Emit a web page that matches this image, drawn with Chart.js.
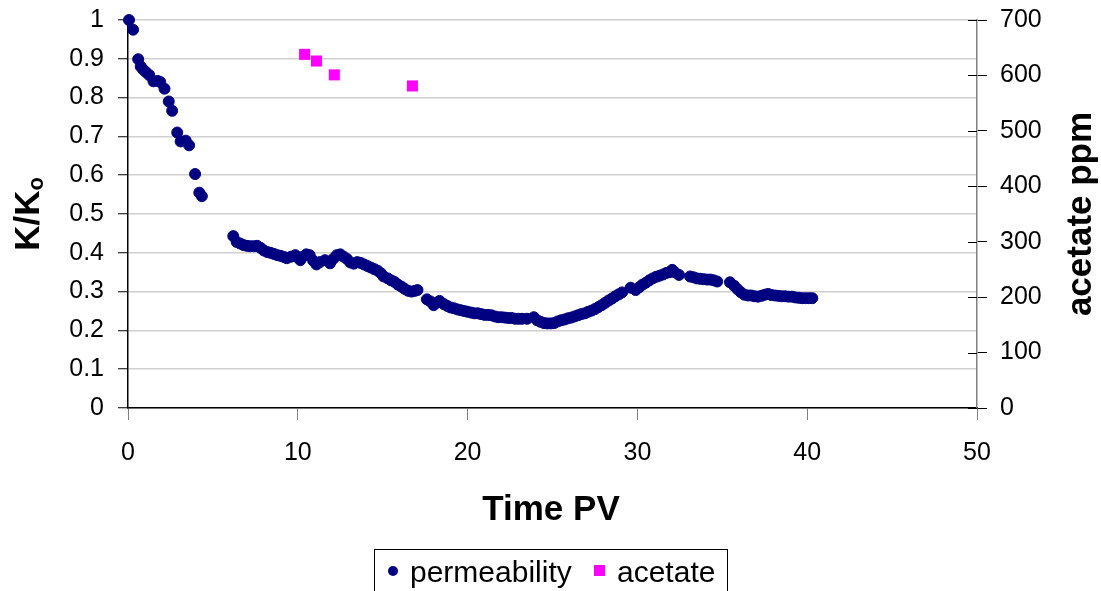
<!DOCTYPE html>
<html>
<head>
<meta charset="utf-8">
<script src="https://cdn.jsdelivr.net/npm/chart.js@4/dist/chart.umd.min.js"></script>
<style>
  html, body { margin: 0; padding: 0; background: #fff; }
  canvas { display: block; }
</style>
</head>
<body>
<canvas id="c" width="1101" height="591"></canvas>
<script>
// Permeability ratio K/Ko against pore volumes injected
const permTime = [
  0.06, 0.3, 0.6, 0.75, 0.9, 1.05, 1.25, 1.5, 1.75, 1.9, 2.15, 2.4, 2.6, 2.9, 3.1, 3.4, 3.6, 3.95, 4.2, 4.35,
  6.2, 6.4, 6.6, 6.8, 7.0, 7.2, 7.4, 7.6, 7.8, 8.0, 8.2, 8.4, 8.6, 8.8, 9.0, 9.2, 9.35, 9.6, 9.85, 10.0,
  10.15, 10.3, 10.5, 10.7, 10.9, 11.1, 11.3, 11.6, 11.9, 12.1, 12.3, 12.5, 12.7, 12.9, 13.1, 13.3, 13.5, 13.7, 13.9, 14.1,
  14.3, 14.5, 14.7, 14.9, 15.05, 15.3, 15.5, 15.7, 15.9, 16.1, 16.3, 16.5, 16.7, 16.9, 17.05,
  17.6, 17.8, 18.0, 18.2, 18.35, 18.6, 18.8, 19.0, 19.2, 19.4, 19.6, 19.8, 20.0, 20.2, 20.4, 20.6, 20.8, 21.0, 21.2, 21.4,
  21.6, 21.8, 22.0, 22.2, 22.4, 22.6, 22.8, 23.0, 23.2, 23.5, 23.9, 24.1, 24.3, 24.5, 24.7, 24.9, 25.1, 25.3, 25.5, 25.7,
  25.9, 26.1, 26.3, 26.5, 26.7, 26.9, 27.1, 27.3, 27.5, 27.7, 27.9, 28.1, 28.3, 28.5, 28.7, 28.9, 29.1,
  29.6, 29.9, 30.1, 30.3, 30.5, 30.7, 30.9, 31.1, 31.3, 31.5, 31.7, 31.9, 32.05, 32.2, 32.45,
  33.1, 33.3, 33.5, 33.7, 33.9, 34.1, 34.3, 34.5, 34.7,
  35.45, 35.7, 35.9, 36.1, 36.3, 36.5, 36.7, 36.9, 37.1, 37.3, 37.5, 37.7, 37.9, 38.1, 38.3, 38.5, 38.7, 38.9, 39.1, 39.3,
  39.5, 39.7, 39.9, 40.1, 40.3
];
const permValue = [
  1.0, 0.975, 0.899, 0.88, 0.872, 0.866, 0.858, 0.842, 0.843, 0.84, 0.823, 0.79, 0.766, 0.71, 0.687, 0.689, 0.677, 0.603, 0.555, 0.546,
  0.443, 0.428, 0.424, 0.42, 0.418, 0.417, 0.417, 0.418, 0.413, 0.406, 0.402, 0.4, 0.397, 0.394, 0.392, 0.389, 0.386, 0.39, 0.394, 0.388,
  0.381, 0.39, 0.396, 0.394, 0.38, 0.37, 0.376, 0.381, 0.373, 0.385, 0.394, 0.396, 0.39, 0.384, 0.375, 0.372, 0.376, 0.374, 0.37, 0.366,
  0.362, 0.358, 0.354, 0.347, 0.339, 0.334, 0.329, 0.325, 0.318, 0.313, 0.307, 0.302, 0.3, 0.302, 0.304,
  0.28, 0.275, 0.265, 0.272, 0.276, 0.268, 0.263, 0.259, 0.257, 0.254, 0.252, 0.25, 0.248, 0.246, 0.244, 0.244, 0.242, 0.24, 0.24, 0.239,
  0.236, 0.234, 0.234, 0.233, 0.232, 0.232, 0.23, 0.23, 0.23, 0.23, 0.234, 0.226, 0.222, 0.219, 0.218, 0.218, 0.219, 0.223, 0.226, 0.228,
  0.231, 0.233, 0.236, 0.239, 0.242, 0.244, 0.248, 0.251, 0.255, 0.26, 0.265, 0.271, 0.277, 0.282, 0.288, 0.293, 0.298,
  0.31, 0.304, 0.311, 0.318, 0.323, 0.329, 0.334, 0.338, 0.341, 0.344, 0.348, 0.35, 0.356, 0.35, 0.343,
  0.339, 0.337, 0.334, 0.333, 0.332, 0.331, 0.331, 0.329, 0.326,
  0.324, 0.315, 0.306, 0.298, 0.292, 0.29, 0.29, 0.288, 0.287, 0.289, 0.292, 0.294, 0.291, 0.29, 0.289, 0.288, 0.288, 0.287, 0.287, 0.285,
  0.284, 0.283, 0.283, 0.283, 0.283
];

// Acetate concentration (ppm), right axis
const acetateTime = [10.4, 11.1, 12.15, 16.75];
const acetateValue = [638, 626, 601, 581];

// Axis tick labels
const xTickLabels = ['0', '10', '20', '30', '40', '50'];
const leftTickLabels = ['0', '0.1', '0.2', '0.3', '0.4', '0.5', '0.6', '0.7', '0.8', '0.9', '1'];
const rightTickLabels = ['0', '100', '200', '300', '400', '500', '600', '700'];

const FONT = '"Liberation Sans", Arial, sans-serif';
const NAVY = '#000080';
const MAGENTA = '#ff00ff';

const toPoints = (xs, ys) => xs.map((x, i) => ({ x: x, y: ys[i] }));

// fixed axis boxes so the plot area sits at the same place every time
const fixWidth = w => s => {
  s.width = w;
  s.paddingTop = 0;
  s.paddingBottom = 0;
};
const fixHeight = h => s => {
  s.height = h;
  s.paddingLeft = 0;
  s.paddingRight = 0;
};

// Titles, inner right-axis ticks and the boxed legend
const decorations = {
  id: 'decorations',
  afterDraw(chart) {
    const ctx = chart.ctx;
    const area = chart.chartArea;
    const y2 = chart.scales.y2;

    // inner half of the right axis cross ticks
    ctx.save();
    ctx.strokeStyle = '#000';
    ctx.lineWidth = 1;
    y2.ticks.forEach(t => {
      const py = Math.round(y2.getPixelForValue(t.value)) + 0.5;
      ctx.beginPath();
      ctx.moveTo(area.right - 9, py);
      ctx.lineTo(area.right, py);
      ctx.stroke();
    });
    ctx.restore();

    ctx.save();
    ctx.fillStyle = '#000';
    ctx.textBaseline = 'alphabetic';

    // x-axis title
    ctx.font = 'bold 35px ' + FONT;
    ctx.textAlign = 'center';
    ctx.fillText('Time PV', 551, 520);

    // left title K/Ko with subscript, rotated
    const cy = (area.top + area.bottom) / 2;
    ctx.save();
    ctx.translate(39, cy);
    ctx.rotate(-Math.PI / 2);
    ctx.font = 'bold 35px ' + FONT;
    const mainW = ctx.measureText('K/K').width;
    ctx.font = 'bold 22px ' + FONT;
    const subW = ctx.measureText('o').width;
    const start = -(mainW + subW) / 2;
    ctx.textAlign = 'left';
    ctx.font = 'bold 35px ' + FONT;
    ctx.fillText('K/K', start, 0);
    ctx.font = 'bold 22px ' + FONT;
    ctx.fillText('o', start + mainW, 4);
    ctx.restore();

    // right title
    ctx.save();
    ctx.translate(1091, cy);
    ctx.rotate(-Math.PI / 2);
    ctx.font = 'bold 35px ' + FONT;
    ctx.textAlign = 'center';
    ctx.fillText('acetate ppm', 0, 0);
    ctx.restore();

    // legend box
    ctx.strokeStyle = '#000';
    ctx.lineWidth = 1;
    ctx.strokeRect(374.5, 549.5, 353, 60);
    ctx.fillStyle = NAVY;
    ctx.beginPath();
    ctx.arc(393, 571, 5, 0, Math.PI * 2);
    ctx.fill();
    ctx.fillStyle = MAGENTA;
    ctx.fillRect(594, 565, 11, 11);
    ctx.fillStyle = '#000';
    ctx.font = '30px ' + FONT;
    ctx.textAlign = 'left';
    ctx.fillText('permeability', 410, 582);
    ctx.fillText('acetate', 617, 582);
    ctx.restore();
  }
};

new Chart(document.getElementById('c'), {
  type: 'scatter',
  data: {
    datasets: [
      {
        label: 'permeability',
        data: toPoints(permTime, permValue),
        yAxisID: 'y',
        pointStyle: 'circle',
        pointRadius: 5.5,
        pointBorderWidth: 1,
        backgroundColor: NAVY,
        borderColor: NAVY,
        clip: false
      },
      {
        label: 'acetate',
        data: toPoints(acetateTime, acetateValue),
        yAxisID: 'y2',
        pointStyle: 'rect',
        pointRadius: 7.8,
        pointBorderWidth: 0,
        backgroundColor: MAGENTA,
        borderColor: MAGENTA,
        clip: false
      }
    ]
  },
  options: {
    responsive: false,
    animation: false,
    layout: { padding: { top: 20, left: 0, right: 0, bottom: 0 } },
    plugins: {
      legend: { display: false },
      tooltip: { enabled: false }
    },
    scales: {
      x: {
        type: 'linear',
        min: 0,
        max: 50,
        afterFit: fixHeight(183),
        afterBuildTicks: s => { s.ticks = xTickLabels.map(v => ({ value: Number(v) })); },
        ticks: {
          callback: (v, i) => xTickLabels[i],
          color: '#000',
          font: { family: FONT, size: 25 },
          padding: 18,
          maxRotation: 0
        },
        grid: {
          drawOnChartArea: false,
          drawTicks: true,
          tickLength: 12,
          tickColor: '#808080',
          lineWidth: 1
        },
        border: { color: '#000', width: 1.5 }
      },
      y: {
        position: 'left',
        min: 0,
        max: 1,
        afterFit: fixWidth(128),
        afterBuildTicks: s => { s.ticks = leftTickLabels.map(v => ({ value: Number(v) })); },
        ticks: {
          callback: (v, i) => leftTickLabels[i],
          color: '#000',
          font: { family: FONT, size: 25 },
          padding: 14
        },
        grid: {
          color: '#d0d0d0',
          lineWidth: 1.5,
          tickLength: 10,
          tickColor: '#000',
          tickWidth: 1
        },
        border: { color: '#000', width: 1.5 }
      },
      y2: {
        position: 'right',
        min: 0,
        max: 700,
        afterFit: fixWidth(124),
        afterBuildTicks: s => { s.ticks = rightTickLabels.map(v => ({ value: Number(v) })); },
        ticks: {
          callback: (v, i) => rightTickLabels[i],
          color: '#000',
          font: { family: FONT, size: 25 },
          padding: 13
        },
        grid: {
          drawOnChartArea: false,
          tickLength: 10,
          tickColor: '#000',
          tickWidth: 1
        },
        border: { color: '#808080', width: 1.5 }
      }
    }
  },
  plugins: [decorations]
});
</script>
</body>
</html>
